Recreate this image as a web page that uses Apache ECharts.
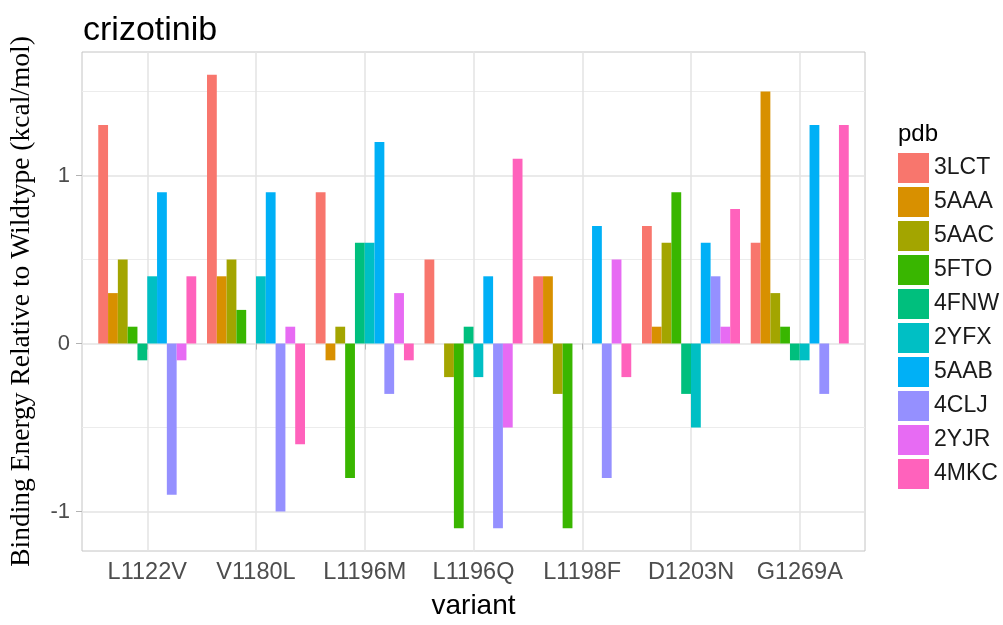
<!DOCTYPE html>
<html>
<head>
<meta charset="utf-8">
<script src="https://cdn.jsdelivr.net/npm/echarts@6/dist/echarts.min.js"></script>
<style>
html,body{margin:0;padding:0;background:#fff;}
#c{width:1003px;height:625px;}
</style>
</head>
<body>
<div id="c"></div>
<script>
const variants = ['L1122V','V1180L','L1196M','L1196Q','L1198F','D1203N','G1269A'];
const pdbs = ['3LCT','5AAA','5AAC','5FTO','4FNW','2YFX','5AAB','4CLJ','2YJR','4MKC'];
const colors = ['#F8766D','#D89000','#A3A500','#39B600','#00BF7D','#00BFC4','#00B0F6','#9590FF','#E76BF3','#FF62BC'];
const v3LCT = [1.3, 1.6, 0.9, 0.5, 0.4, 0.7, 0.6];
const v5AAA = [0.3, 0.4, -0.1, null, 0.4, 0.1, 1.5];
const v5AAC = [0.5, 0.5, 0.1, -0.2, -0.3, 0.6, 0.3];
const v5FTO = [0.1, 0.2, -0.8, -1.1, -1.1, 0.9, 0.1];
const v4FNW = [-0.1, null, 0.6, 0.1, null, -0.3, -0.1];
const v2YFX = [0.4, 0.4, 0.6, -0.2, null, -0.5, -0.1];
const v5AAB = [0.9, 0.9, 1.2, 0.4, 0.7, 0.6, 1.3];
const v4CLJ = [-0.9, -1.0, -0.3, -1.1, -0.8, 0.4, -0.3];
const v2YJR = [-0.1, 0.1, 0.3, -0.5, 0.5, 0.1, null];
const v4MKC = [0.4, -0.6, -0.1, 1.1, -0.2, 0.8, 1.3];
const seriesValues = [v3LCT, v5AAA, v5AAC, v5FTO, v4FNW, v2YFX, v5AAB, v4CLJ, v2YJR, v4MKC];
const yMajor = [-1, 0, 1];
const yMinor = [-0.5, 0.5, 1.5];

const SANS = 'Liberation Sans, Arial, sans-serif';
const chart = echarts.init(document.getElementById('c'), null, {renderer: 'canvas'});
const xPos = variants.map((v, i) => i + 1);

const option = {
  backgroundColor: '#ffffff',
  animation: false,
  color: colors,
  title: {
    text: 'crizotinib', left: 78, top: 9,
    textStyle: {fontFamily: SANS, fontSize: 34, fontWeight: 'normal', color: '#000'}
  },
  legend: {
    orient: 'vertical', left: 898, top: 153, padding: 0,
    itemWidth: 31, itemHeight: 30, itemGap: 4,
    icon: 'rect',
    data: pdbs,
    textStyle: {fontFamily: SANS, fontSize: 23, color: '#1a1a1a'},
    itemStyle: {borderWidth: 0}
  },
  graphic: [{
    type: 'text', left: 898, top: 122,
    style: {text: 'pdb', font: '24px ' + SANS, fill: '#000'}
  }],
  grid: {
    left: 80, top: 52, width: 785, height: 506,
    show: true, borderColor: '#c4c4c4', borderWidth: 1, backgroundColor: '#fff'
  },
  xAxis: {
    type: 'value', min: 0.4, max: 7.6,
    name: 'variant', nameLocation: 'middle', nameGap: 41,
    nameTextStyle: {fontFamily: SANS, fontSize: 28, color: '#000'},
    axisLine: {show: false},
    axisTick: {show: true, customValues: xPos, length: 6, lineStyle: {color: '#b3b3b3', width: 1}},
    axisLabel: {
      customValues: xPos, margin: 10,
      fontFamily: SANS, fontSize: 23.5, color: '#4d4d4d',
      formatter: (val) => variants[Math.round(val) - 1] || ''
    },
    splitLine: {show: true, lineStyle: {color: '#e3e3e3', width: 1.5}}
  },
  yAxis: [{
    type: 'value', min: -1.235, max: 1.735,
    name: 'Binding Energy Relative to Wildtype (kcal/mol)',
    nameLocation: 'middle', nameGap: 46, nameRotate: 90,
    nameTextStyle: {fontFamily: 'Liberation Serif, Times New Roman, serif', fontSize: 27.5, color: '#000'},
    axisLine: {show: false},
    axisTick: {show: true, customValues: yMajor, length: 6, lineStyle: {color: '#b3b3b3', width: 1}},
    axisLabel: {customValues: yMajor, margin: 12, fontFamily: SANS, fontSize: 22, color: '#4d4d4d'},
    splitLine: {show: true, lineStyle: {color: '#e3e3e3', width: 1.5}}
  }, {
    type: 'value', min: -1.235, max: 1.735, position: 'left',
    axisLine: {show: false},
    axisTick: {show: false, customValues: yMinor},
    axisLabel: {show: false, customValues: yMinor},
    splitLine: {show: true, lineStyle: {color: '#ececec', width: 1}}
  }],
  series: pdbs.map((p, k) => ({
    name: p, type: 'bar',
    xAxisIndex: 0, yAxisIndex: 0,
    barWidth: 9.8, barGap: '0%',
    itemStyle: {color: colors[k]},
    data: xPos.map((x, i) => [x, seriesValues[k][i]])
  }))
};
chart.setOption(option);
</script>
</body>
</html>
